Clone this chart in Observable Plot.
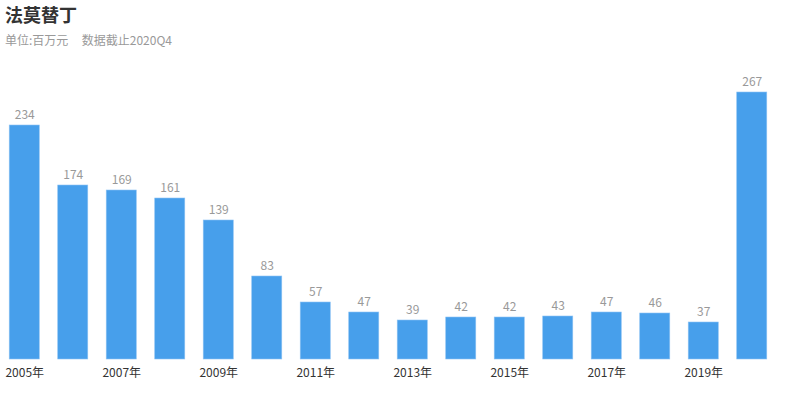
<!DOCTYPE html>
<html><head><meta charset="utf-8">
<script src="https://cdn.jsdelivr.net/npm/d3@7"></script>
<script src="https://cdn.jsdelivr.net/npm/@observablehq/plot@0.6"></script>
<style>
body{margin:0;background:#fff;font-family:"Noto Sans CJK SC","Noto Sans",sans-serif;}
#title{position:absolute;left:5px;top:2px;font-size:18px;font-weight:bold;color:#333;line-height:24px;}
#sub{position:absolute;left:5px;top:31px;font-size:12px;color:#999;line-height:18px;white-space:pre;}
#chart{position:absolute;left:0;top:55px;}
</style></head><body>
<div id="title">法莫替丁</div>
<div id="sub">单位:百万元     数据截止2020Q4</div>
<div id="chart"></div>
<script>
const years = ["2005","2006","2007","2008","2009","2010","2011","2012","2013","2014","2015","2016","2017","2018","2019","2020"];
const values = [234,174,169,161,139,83,57,47,39,42,42,43,47,46,37,267];
const tickYears = ["2005","2007","2009","2011","2013","2015","2017","2019"];
const data = years.map((y,i)=>({year:y, value:values[i]}));
const chart = Plot.plot({
  width: 800,
  height: 354,
  marginLeft: 0,
  marginRight: 24,
  marginTop: 4,
  marginBottom: 50,
  style:{fontFamily:'"Noto Sans CJK SC","Noto Sans",sans-serif', fontSize:"12px", background:"#fff"},
  x:{domain:years, paddingInner:0.38, paddingOuter:0.19, round:false, label:null},
  y:{domain:[0,300], axis:null},
  marks:[
    Plot.barY(data,{x:"year", y:"value", fill:"#479FEB", stroke:"#8EC3F3", strokeWidth:0.6}),
    Plot.text(data,{x:"year", y:"value", text:d=>String(d.value), dy:-10, fill:"#999", fontSize:12}),
    Plot.axisX({ticks:tickYears, tickFormat:d=>d+"年", tickSize:0, tickPadding:9, fill:"#333", fontSize:12, label:null})
  ]
});
document.getElementById("chart").appendChild(chart);
</script>
</body></html>
